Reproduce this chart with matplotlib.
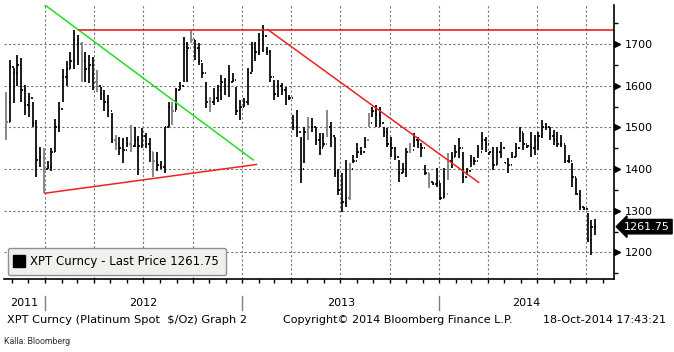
import matplotlib.pyplot as plt
import matplotlib.dates as mdates
import matplotlib.transforms as mtransforms
from matplotlib.lines import Line2D
from matplotlib.ticker import MultipleLocator
import pandas as pd

# weekly bars XPT Curncy
highs = [1586, 1662, 1642, 1674, 1666, 1602, 1582, 1560, 1518, 1454,
         1450, 1420, 1450, 1520, 1560, 1640, 1660, 1680, 1735, 1722,
         1706, 1682, 1674, 1670, 1638, 1598, 1590, 1578, 1534, 1482,
         1478, 1474, 1478, 1506, 1502, 1480, 1498, 1486, 1474, 1442,
         1440, 1420, 1502, 1562, 1562, 1594, 1610, 1716, 1706, 1735,
         1711, 1702, 1654, 1610, 1574, 1594, 1602, 1626, 1618, 1650,
         1630, 1598, 1566, 1570, 1642, 1706, 1706, 1726, 1746, 1694,
         1686, 1614, 1614, 1606, 1598, 1578, 1530, 1542, 1478, 1502,
         1526, 1522, 1502, 1486, 1486, 1542, 1514, 1478, 1400, 1390,
         1422, 1414, 1434, 1462, 1454, 1478, 1534, 1550, 1554, 1550,
         1502, 1498, 1478, 1454, 1422, 1414, 1450, 1462, 1486, 1478,
         1462, 1410, 1390, 1370, 1402, 1366, 1402, 1438, 1442, 1458,
         1474, 1442, 1402, 1434, 1430, 1458, 1490, 1478, 1442, 1454,
         1454, 1466, 1418, 1426, 1442, 1462, 1502, 1486, 1458, 1490,
         1482, 1490, 1518, 1510, 1502, 1494, 1490, 1482, 1458, 1434,
         1414, 1378, 1350, 1310, 1294, 1278, 1280]
lows = [1470, 1514, 1559, 1600, 1560, 1530, 1526, 1500, 1382, 1406,
        1342, 1400, 1395, 1440, 1490, 1560, 1600, 1640, 1640, 1650,
        1610, 1610, 1606, 1590, 1586, 1566, 1540, 1526, 1462, 1446,
        1434, 1414, 1454, 1442, 1454, 1385, 1450, 1450, 1418, 1382,
        1395, 1400, 1390, 1502, 1505, 1542, 1590, 1610, 1610, 1702,
        1662, 1650, 1618, 1546, 1538, 1554, 1562, 1566, 1578, 1574,
        1610, 1530, 1518, 1550, 1554, 1634, 1660, 1674, 1682, 1674,
        1610, 1566, 1574, 1578, 1554, 1566, 1494, 1478, 1366, 1414,
        1470, 1490, 1458, 1434, 1454, 1478, 1454, 1382, 1338, 1298,
        1310, 1326, 1414, 1426, 1434, 1450, 1502, 1526, 1502, 1502,
        1478, 1454, 1430, 1422, 1370, 1390, 1382, 1438, 1454, 1450,
        1430, 1386, 1354, 1362, 1358, 1326, 1330, 1374, 1402, 1430,
        1426, 1366, 1386, 1406, 1410, 1426, 1446, 1442, 1434, 1398,
        1410, 1426, 1414, 1390, 1426, 1430, 1466, 1446, 1450, 1430,
        1434, 1446, 1474, 1494, 1470, 1458, 1454, 1454, 1414, 1414,
        1358, 1338, 1302, 1302, 1226, 1194, 1242]
closes = [1514, 1646, 1630, 1650, 1590, 1555, 1570, 1510, 1421, 1430,
          1400, 1405, 1440, 1500, 1545, 1620, 1640, 1660, 1710, 1700,
          1660, 1640, 1650, 1610, 1600, 1580, 1560, 1540, 1470, 1460,
          1450, 1445, 1460, 1455, 1470, 1455, 1480, 1460, 1440, 1420,
          1410, 1405, 1500, 1550, 1540, 1590, 1600, 1700, 1690, 1710,
          1690, 1660, 1630, 1560, 1560, 1570, 1590, 1610, 1600, 1610,
          1615, 1540, 1550, 1560, 1630, 1690, 1680, 1710, 1720, 1680,
          1620, 1580, 1600, 1590, 1570, 1570, 1500, 1490, 1400, 1490,
          1500, 1500, 1470, 1450, 1460, 1500, 1480, 1390, 1350, 1320,
          1330, 1400, 1420, 1440, 1440, 1470, 1510, 1540, 1530, 1510,
          1490, 1460, 1450, 1430, 1390, 1400, 1440, 1445, 1470, 1460,
          1450, 1390, 1370, 1365, 1370, 1330, 1340, 1420, 1430, 1440,
          1450, 1380, 1395, 1420, 1420, 1440, 1470, 1460, 1440, 1410,
          1440, 1450, 1415, 1410, 1430, 1450, 1490, 1460, 1455, 1450,
          1470, 1480, 1500, 1500, 1480, 1470, 1460, 1460, 1420, 1420,
          1380, 1340, 1310, 1305, 1230, 1260, 1261.75]
gray_bars = [0, 10, 20, 24, 29, 33, 39, 44, 49, 54, 80, 85, 91, 96, 107, 112, 117]
first_open = 1560
last_price = 1261.75

# trend lines drawn on the chart
green_dates = ["2012-01-01", "2013-01-21"]
green_vals = [1794, 1422]
support_dates = ["2012-01-01", "2013-01-27"]
support_vals = [1342, 1411]
resist_dates = ["2012-03-04", "2014-11-21"]
resist_vals = [1735, 1735]
down_dates = ["2013-02-17", "2014-03-15"]
down_vals = [1735, 1368]

plt.rcParams["font.family"] = ["DejaVu Sans"]
fs = 8

dates = pd.date_range(end="2014-10-17", periods=len(closes), freq="W-FRI")
x = mdates.date2num(dates.to_pydatetime())
opens = [first_open] + closes[:-1]
colors = ["#7a7a7a" if i in gray_bars else "black" for i in range(len(closes))]

fig = plt.figure(figsize=(6.74, 3.52), dpi=100)
ax = fig.add_axes([4 / 674, 73 / 352, 610 / 674, 274 / 352])

x0 = mdates.date2num(pd.Timestamp("2011-10-17"))
x1 = mdates.date2num(pd.Timestamp("2014-11-21"))
ax.set_xlim(x0, x1)
ax.set_ylim(1136, 1794)

ax.grid(True, which="major", ls=(0, (2, 2)), color="#777777", lw=0.8)
ax.set_axisbelow(True)

# OHLC bars
tick = 2.5
ax.vlines(x, lows, highs, colors=colors, lw=1.25)
ax.hlines(opens, x - tick, x, colors=colors, lw=1.25)
ax.hlines(closes, x, x + tick, colors=colors, lw=1.25)

# Trendlinjer
def tl(ds, vs, c):
    ax.plot(mdates.date2num(pd.to_datetime(ds).to_pydatetime()), vs, color=c, lw=1.1)

tl(green_dates, green_vals, "#22dd22")
tl(support_dates, support_vals, "#ee2222")
tl(resist_dates, resist_vals, "#dd1111")
tl(down_dates, down_vals, "#ee2222")

# axes
for s in ["left", "top"]:
    ax.spines[s].set_visible(False)
ax.spines["right"].set_linewidth(1.2)
ax.spines["bottom"].set_linewidth(1.2)

ax.yaxis.tick_right()
ax.set_yticks([1200, 1300, 1400, 1500, 1600, 1700])
ax.yaxis.set_minor_locator(MultipleLocator(50))
ax.tick_params(axis="y", which="major", length=0, pad=8, labelsize=fs)
ax.tick_params(axis="y", which="minor", length=3, width=1, direction="out")
trans_y = mtransforms.blended_transform_factory(ax.transAxes, ax.transData)
ax.plot([1.0055] * 6, [1200, 1300, 1400, 1500, 1600, 1700], ls="none", marker=">",
        ms=4.5, color="black", transform=trans_y, clip_on=False)

ax.xaxis.set_major_locator(mdates.MonthLocator(bymonth=[1, 4, 7, 10]))
ax.xaxis.set_minor_locator(mdates.MonthLocator())
ax.tick_params(axis="x", which="both", length=3, width=1, direction="out", labelbottom=False)

# year labels under the axis
trans_x = mtransforms.blended_transform_factory(ax.transData, ax.transAxes)
for yr in [2011, 2012, 2013, 2014]:
    a = max(x0, mdates.date2num(pd.Timestamp(f"{yr}-01-01")))
    b = min(x1, mdates.date2num(pd.Timestamp(f"{yr + 1}-01-01")))
    ax.text((a + b) / 2, -0.088, str(yr), transform=trans_x, ha="center", va="center", fontsize=fs)
    if yr > 2011:
        ax.plot([a, a], [-0.062, -0.113], transform=trans_x, color="#808080", lw=1, clip_on=False)

# last price tag
ax.text(1.0 + 10 / 610, last_price, f"{last_price:.2f}", transform=trans_y, color="white",
        fontsize=8, va="center", ha="left",
        bbox=dict(boxstyle="larrow,pad=0.2", fc="black", ec="black"))

# legend
h = Line2D([], [], ls="none", marker="s", ms=8.5, color="black")
leg = ax.legend([h], [f"XPT Curncy - Last Price {last_price:.2f}"], loc="lower left",
                bbox_to_anchor=(0.006, 0.014), borderaxespad=0, fontsize=8.5,
                fancybox=True, framealpha=1, facecolor="#f0f0ec", edgecolor="#909090",
                handlelength=0.8, handletextpad=0.5, borderpad=0.6)

# footer
fy = 1 - 320 / 352
fig.text(7 / 674, fy, "XPT Curncy (Platinum Spot  $/Oz) Graph 2", fontsize=8.2, va="center")
fig.text(283 / 674, fy, "Copyright\u00a9 2014 Bloomberg Finance L.P.", fontsize=fs, va="center")
fig.text(543 / 674, fy, "18-Oct-2014 17:43:21", fontsize=fs, va="center")
fig.text(4 / 674, 1 - 342 / 352, "Källa: Bloomberg", fontsize=6.3, color="#333333",
         va="center", family="Roboto")

fig.savefig("out.png", dpi=100)
